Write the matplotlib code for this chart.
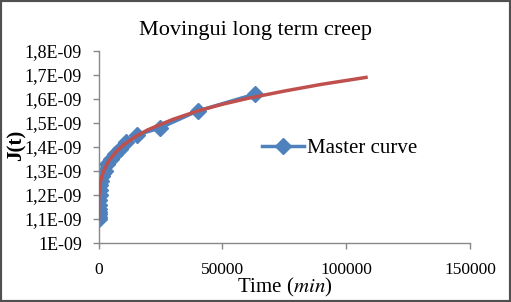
import matplotlib
matplotlib.use("Agg")
import matplotlib.pyplot as plt
from matplotlib.ticker import FuncFormatter
from matplotlib.patches import Rectangle

# Measured data (master curve)
blue_t = [0, 50, 100, 150, 200, 300, 400, 500, 650, 800, 1000, 1300, 1800,
          2500, 3500, 5000, 6500, 8500, 11000, 15500, 25000, 40000, 63000]
blue_J = [1.10, 1.11, 1.12, 1.13, 1.14, 1.16, 1.18, 1.20, 1.22, 1.24, 1.26, 1.28, 1.29,
          1.30, 1.33, 1.35, 1.37, 1.39, 1.42, 1.45, 1.48, 1.55, 1.62]

# Fitted curve (red)
red_t = [0, 100, 500, 1000, 2000, 4000, 7000, 10000, 15000, 20000, 30000,
         40000, 50000, 60000, 75000, 90000, 108000]
red_J = [1.10, 1.188, 1.236, 1.264, 1.298, 1.340, 1.379, 1.408, 1.444, 1.472, 1.515,
         1.550, 1.578, 1.602, 1.633, 1.661, 1.690]

x_ticks = [0, 50000, 100000, 150000]
y_ticks = [1.0, 1.1, 1.2, 1.3, 1.4, 1.5, 1.6, 1.7, 1.8]

serif = ["Liberation Serif", "DejaVu Serif"]

fig = plt.figure(figsize=(5.11, 3.02), dpi=100)
ax = fig.add_axes([98.5 / 511, 1 - 243 / 302, (470 - 98.5) / 511, (243 - 51) / 302])

blue = "#4F81BD"
red = "#C0504D"
ax.plot(blue_t, [v * 1e-9 for v in blue_J], color=blue, lw=2.5, marker="D",
        markersize=8, label="Master curve", zorder=2)
ax.plot(red_t, [v * 1e-9 for v in red_J], color=red, lw=2.5, zorder=3)

ax.set_xlim(0, 150000)
ax.set_ylim(1.0e-9, 1.8e-9)
ax.set_xticks(x_ticks)
ax.set_yticks([v * 1e-9 for v in y_ticks])


def yfmt(v, pos):
    m = round(v * 1e9, 1)
    if abs(m - round(m)) < 1e-6:
        return "%dE-09" % round(m)
    return ("%.1fE-09" % m).replace(".", ",")


ax.yaxis.set_major_formatter(FuncFormatter(yfmt))
ax.xaxis.set_major_formatter(FuncFormatter(lambda v, p: "%d" % v))

for s in ["top", "right"]:
    ax.spines[s].set_visible(False)
for s in ["left", "bottom"]:
    ax.spines[s].set_color("#888888")
    ax.spines[s].set_linewidth(1.0)
ax.tick_params(axis="both", direction="out", color="#888888", length=4, width=1,
               labelsize=12.5)
ax.tick_params(axis="x", pad=10)
ax.tick_params(axis="y", pad=8, labelsize=13)
for lab in ax.get_xticklabels() + ax.get_yticklabels():
    lab.set_family(serif)

fig.text(0.5, 1 - 30 / 302, "Movingui long term creep", family=serif, fontsize=16,
         ha="center", va="center")
fig.text(17 / 511, 1 - 145 / 302, "J(t)", rotation=90, family=serif, fontsize=15,
         fontweight="bold", ha="center", va="center")
fig.text(285 / 511, 1 - 287 / 302, r"Time ($\mathit{min}$)", family=serif, fontsize=15,
         ha="center", va="center", math_fontfamily="stix")

leg = ax.legend(loc="center left", bbox_to_anchor=(262 / 511, 1 - 148 / 302),
                bbox_transform=fig.transFigure, frameon=False,
                prop={"family": serif, "size": 15}, handlelength=2.0,
                handletextpad=0.15, borderpad=0, borderaxespad=0)

fig.patches.append(Rectangle((0, 0), 1, 1, transform=fig.transFigure, fill=False,
                             edgecolor="#505050", lw=3, zorder=10))

fig.savefig("out.png", dpi=100)
